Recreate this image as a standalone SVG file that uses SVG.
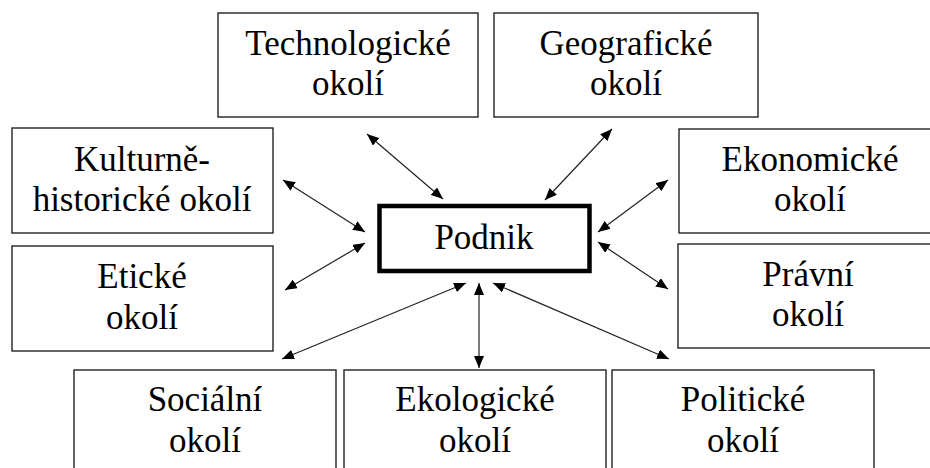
<svg xmlns="http://www.w3.org/2000/svg" width="930" height="468" viewBox="0 0 930 468">
<defs>
<style>
.box{fill:#fff;stroke:#222;stroke-width:1.4}
.main{fill:#fff;stroke:#000;stroke-width:4.5}
.t{font-family:'Liberation Serif','Times New Roman',serif;font-size:35px;fill:#000;text-anchor:middle}
.c{fill:none;stroke:#222;stroke-width:1.2}
</style>
<marker id="ah" viewBox="0 0 12 10" refX="12" refY="5" markerWidth="12" markerHeight="10" markerUnits="userSpaceOnUse" orient="auto-start-reverse">
<path d="M0,0 L12,5 L0,10 Z" fill="#000"/>
</marker>
</defs>
<rect width="930" height="468" fill="#fff"/>
<g id="connectors">
<line class="c" x1="367" y1="134" x2="443" y2="199" marker-start="url(#ah)" marker-end="url(#ah)"/>
<line class="c" x1="612" y1="129" x2="545" y2="200" marker-start="url(#ah)" marker-end="url(#ah)"/>
<line class="c" x1="283" y1="180" x2="365" y2="232" marker-start="url(#ah)" marker-end="url(#ah)"/>
<line class="c" x1="285" y1="290" x2="365" y2="243" marker-start="url(#ah)" marker-end="url(#ah)"/>
<line class="c" x1="668" y1="180" x2="598" y2="232" marker-start="url(#ah)" marker-end="url(#ah)"/>
<line class="c" x1="598" y1="242" x2="668" y2="289" marker-start="url(#ah)" marker-end="url(#ah)"/>
<line class="c" x1="466" y1="283" x2="282" y2="359" marker-start="url(#ah)" marker-end="url(#ah)"/>
<line class="c" x1="479" y1="283" x2="479" y2="368" marker-start="url(#ah)" marker-end="url(#ah)"/>
<line class="c" x1="493" y1="283" x2="669" y2="359" marker-start="url(#ah)" marker-end="url(#ah)"/>
</g>
<g id="podnik">
<rect class="main" x="379.5" y="206" width="210" height="65"/>
<text class="t" x="484" y="249">Podnik</text>
</g>
<g id="technologicke">
<rect class="box" x="218" y="13" width="260" height="104"/>
<text class="t" x="348" y="55">Technologické</text>
<text class="t" x="348" y="95">okolí</text>
</g>
<g id="geograficke">
<rect class="box" x="494" y="13" width="264" height="104"/>
<text class="t" x="626" y="55">Geografické</text>
<text class="t" x="626" y="95">okolí</text>
</g>
<g id="kulturne">
<rect class="box" x="12" y="128" width="261" height="105"/>
<text class="t" x="142" y="171">Kulturně-</text>
<text class="t" x="142" y="211">historické okolí</text>
</g>
<g id="eticke">
<rect class="box" x="12" y="246" width="261" height="105"/>
<text class="t" x="142" y="288">Etické</text>
<text class="t" x="142" y="329">okolí</text>
</g>
<g id="ekonomicke">
<rect class="box" x="679" y="129" width="262" height="104"/>
<text class="t" x="810" y="171">Ekonomické</text>
<text class="t" x="810" y="211">okolí</text>
</g>
<g id="pravni">
<rect class="box" x="678" y="244" width="262" height="104"/>
<text class="t" x="808" y="286">Právní</text>
<text class="t" x="808" y="326">okolí</text>
</g>
<g id="socialni">
<rect class="box" x="74" y="370" width="262" height="110"/>
<text class="t" x="205" y="411">Sociální</text>
<text class="t" x="205" y="452">okolí</text>
</g>
<g id="ekologicke">
<rect class="box" x="344" y="370" width="262" height="110"/>
<text class="t" x="475" y="411">Ekologické</text>
<text class="t" x="475" y="452">okolí</text>
</g>
<g id="politicke">
<rect class="box" x="612" y="370" width="262" height="110"/>
<text class="t" x="743" y="411">Politické</text>
<text class="t" x="743" y="452">okolí</text>
</g>
</svg>
